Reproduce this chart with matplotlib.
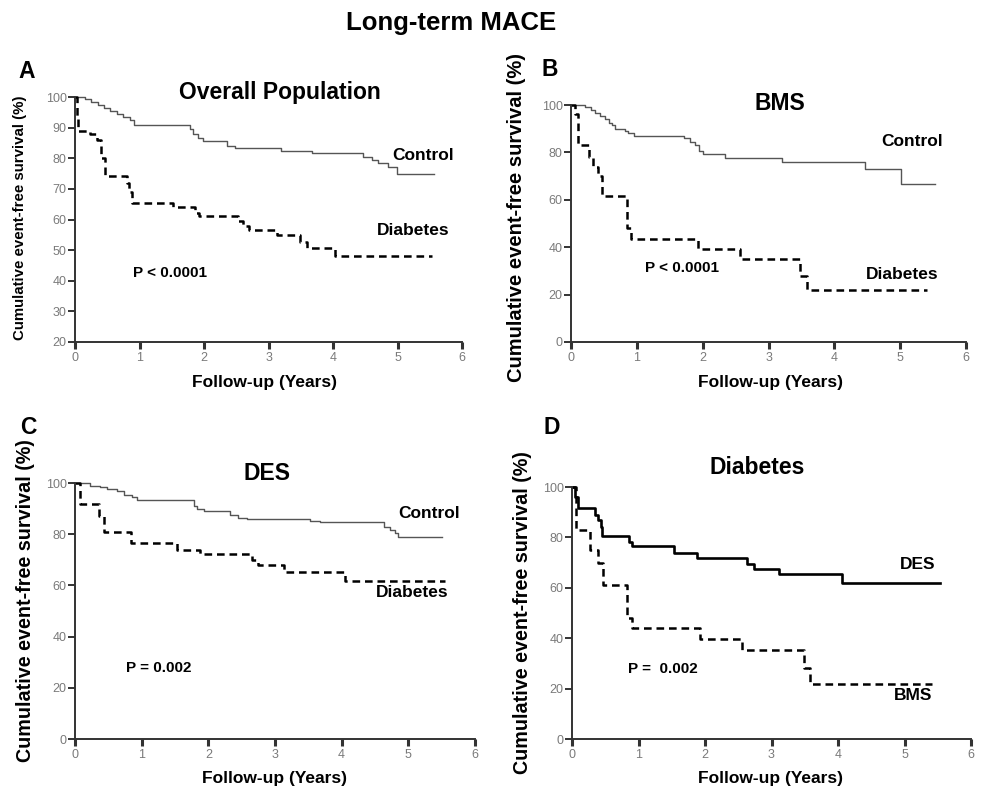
import matplotlib
matplotlib.use("Agg")
import matplotlib.pyplot as plt
from matplotlib import font_manager

plt.rcParams['font.family'] = ['Liberation Sans', 'DejaVu Sans']
plt.rcParams['lines.scale_dashes'] = False

names = {f.name for f in font_manager.fontManager.ttflist}
NARROW = 'Liberation Sans Narrow' in names
narrow_fam = ['Liberation Sans Narrow', 'Liberation Sans'] if NARROW else ['Liberation Sans']

# ---- data ----
a_ctrl_t = [0, 0.15, 0.25, 0.35, 0.45, 0.55, 0.65, 0.75, 0.85, 0.92, 1.78, 1.83, 1.9, 1.99,
            2.35, 2.48, 3.2, 3.67, 4.47, 4.6, 4.7, 4.85, 4.99, 5.56]
a_ctrl_v = [100, 99.5, 98.5, 97.5, 96.5, 95.5, 94.5, 93.5, 92.5, 91, 89.5, 88, 86.5, 85.7,
            84, 83.2, 82.5, 81.7, 80.5, 79.5, 78.5, 77, 74.8, 74.8]
a_diab_t = [0, 0.03, 0.05, 0.23, 0.34, 0.41, 0.47, 0.8, 0.84, 0.88, 1.52, 1.86, 1.92,
            2.53, 2.6, 2.7, 3.13, 3.49, 3.59, 4.03, 5.53]
a_diab_v = [100, 93, 89, 88, 86, 80, 74.2, 72, 69, 65.3, 64, 62, 61,
            59.5, 58, 56.6, 55, 52.5, 50.6, 48.2, 48.2]

b_ctrl_t = [0, 0.21, 0.3, 0.36, 0.44, 0.52, 0.57, 0.62, 0.67, 0.82, 0.87, 0.95, 1.71, 1.8,
            1.88, 1.95, 2.01, 2.34, 3.2, 4.47, 5.02, 5.53]
b_ctrl_v = [100, 99, 98, 96.5, 95.5, 94, 92.5, 91.5, 90, 89, 88, 86.9, 86, 84.5,
            83, 80.5, 79.2, 77.8, 76.1, 73.2, 66.6, 66.6]
b_diab_t = [0, 0.06, 0.1, 0.28, 0.34, 0.41, 0.47, 0.85, 0.91, 1.93, 2.56, 3.48, 3.58, 5.4]
b_diab_v = [100, 96, 83.1, 78, 74, 70, 61.4, 48, 43.5, 39.3, 35.1, 28, 22, 22]

c_ctrl_t = [0, 0.23, 0.38, 0.48, 0.63, 0.73, 0.85, 0.93, 1.78, 1.83, 1.93, 2.33, 2.45, 2.58,
            3.53, 3.68, 4.63, 4.73, 4.8, 4.85, 5.5]
c_ctrl_v = [100, 99, 98.3, 97.8, 97, 95.5, 94.5, 93.5, 91, 90, 89.2, 87.5, 86.5, 86,
            85.2, 84.6, 83, 81.5, 80.5, 79.1, 79.1]
c_diab_t = [0, 0.07, 0.36, 0.43, 0.84, 1.53, 1.88, 2.65, 2.75, 3.13, 4.05, 5.55]
c_diab_v = [100, 91.8, 87.2, 80.7, 76.5, 74, 72.2, 70, 67.8, 65.4, 61.9, 61.9]

d_des_t = [0, 0.05, 0.085, 0.35, 0.39, 0.43, 0.45, 0.85, 0.9, 1.53, 1.88, 2.63, 2.73, 3.11, 4.06, 5.54]
d_des_v = [100, 96, 91.7, 89, 87, 84, 80.6, 78, 76.4, 74, 71.9, 69.5, 67.6, 65.4, 61.8, 61.8]
d_bms_t = [0, 0.065, 0.27, 0.39, 0.47, 0.83, 0.9, 1.93, 2.56, 3.49, 3.58, 5.41]
d_bms_v = [100, 83.1, 75, 70, 61.3, 48, 43.9, 39.5, 35.3, 28, 22, 22]

x_ticks = [0, 1, 2, 3, 4, 5, 6]
a_yticks = [20, 30, 40, 50, 60, 70, 80, 90, 100]
yticks = [0, 20, 40, 60, 80, 100]

W, H = 981, 790
fig = plt.figure(figsize=(W / 100, H / 100), dpi=100)


def rect(l, t, r, b):
    return [l / W, 1 - b / H, (r - l) / W, (b - t) / H]


def ftext(x, y, s, **kw):
    fig.text(x / W, 1 - y / H, s, ha='center', va='center', **kw)


def style(ax, ymin, ticks):
    ax.set_xlim(0, 6)
    ax.set_ylim(ymin, 100)
    ax.set_xticks(x_ticks)
    ax.set_yticks(ticks)
    for s in ['top', 'right']:
        ax.spines[s].set_visible(False)
    for s in ['left', 'bottom']:
        ax.spines[s].set_color('#333333')
        ax.spines[s].set_linewidth(1.4)
    ax.tick_params(axis='x', direction='out', length=5, width=2.2, color='#333333', pad=2)
    ax.tick_params(axis='y', direction='out', length=5, width=1.4, color='#333333', pad=1)
    for lab in ax.get_xticklabels() + ax.get_yticklabels():
        lab.set_family(narrow_fam)
        lab.set_fontsize(10 if NARROW else 9)
        lab.set_color('#7a7a7a')


def solid(ax, t, v, color='#555555', lw=1.0):
    ax.step(t, v, where='post', color=color, lw=lw, clip_on=False)


def dashed(ax, t, v):
    ln, = ax.step(t, v, where='post', color='black', lw=1.8, clip_on=False)
    ln.set_dashes([5.5, 3.5])


axA = fig.add_axes(rect(75, 97, 462, 342))
axB = fig.add_axes(rect(571, 105, 966, 342))
axC = fig.add_axes(rect(75, 483, 475, 739))
axD = fig.add_axes(rect(572, 487, 971, 739))

solid(axA, a_ctrl_t, a_ctrl_v)
dashed(axA, a_diab_t, a_diab_v)
solid(axB, b_ctrl_t, b_ctrl_v)
dashed(axB, b_diab_t, b_diab_v)
solid(axC, c_ctrl_t, c_ctrl_v)
dashed(axC, c_diab_t, c_diab_v)
solid(axD, d_des_t, d_des_v, color='black', lw=1.9)
dashed(axD, d_bms_t, d_bms_v)

style(axA, 20, a_yticks)
style(axB, 0, yticks)
style(axC, 0, yticks)
style(axD, 0, yticks)

lbl = dict(fontsize=12.5, fontweight='bold', ha='center', va='center')
pv = dict(fontsize=11, fontweight='bold', ha='center', va='center')
axA.text(5.4, 81.0, 'Control', **lbl)
axA.text(5.24, 56.5, 'Diabetes', **lbl)
axA.text(1.47, 42.5, 'P < 0.0001', **pv)
axB.text(5.18, 84.4, 'Control', **lbl)
axB.text(5.03, 28.4, 'Diabetes', **lbl)
axB.text(1.69, 31.3, 'P < 0.0001', **pv)
axC.text(5.31, 87.9, 'Control', **lbl)
axC.text(5.06, 57.4, 'Diabetes', **lbl)
axC.text(1.25, 27.7, 'P = 0.002', **pv)
axD.text(5.2, 69.4, 'DES', **lbl)
axD.text(5.13, 17.1, 'BMS', **lbl)
axD.text(1.37, 27.8, 'P =  0.002', **pv)

# titles, letters, axis labels
ftext(451, 23, 'Long-term MACE', fontsize=18.5, fontweight='bold')
ftext(280, 93, 'Overall Population', fontsize=16.5, fontweight='bold')
ftext(780, 103, 'BMS', fontsize=16.5, fontweight='bold')
ftext(267, 473, 'DES', fontsize=16.5, fontweight='bold')
ftext(757, 467, 'Diabetes', fontsize=16.5, fontweight='bold')

ftext(27, 72, 'A', fontsize=16.5, fontweight='bold')
ftext(550, 70, 'B', fontsize=16.5, fontweight='bold')
ftext(28, 427, 'C', fontsize=16.5, fontweight='bold')
ftext(552, 428, 'D', fontsize=16.5, fontweight='bold')

ylab = 'Cumulative event-free survival (%)'
if NARROW:
    ftext(20, 218, ylab, fontsize=13, fontweight='bold', rotation=90, family=narrow_fam)
else:
    ftext(20, 218, ylab, fontsize=10.8, fontweight='bold', rotation=90)
ftext(516, 218, ylab, fontsize=14.5, fontweight='bold', rotation=90)
ftext(26, 601, ylab, fontsize=14.2, fontweight='bold', rotation=90)
ftext(522, 613, ylab, fontsize=14.2, fontweight='bold', rotation=90)

ftext(265, 383, 'Follow-up (Years)', fontsize=12.5, fontweight='bold')
ftext(770, 383, 'Follow-up (Years)', fontsize=12.5, fontweight='bold')
ftext(275, 778, 'Follow-up (Years)', fontsize=12.5, fontweight='bold')
ftext(770, 778, 'Follow-up (Years)', fontsize=12.5, fontweight='bold')

fig.savefig('out.png', dpi=100, facecolor='white')
